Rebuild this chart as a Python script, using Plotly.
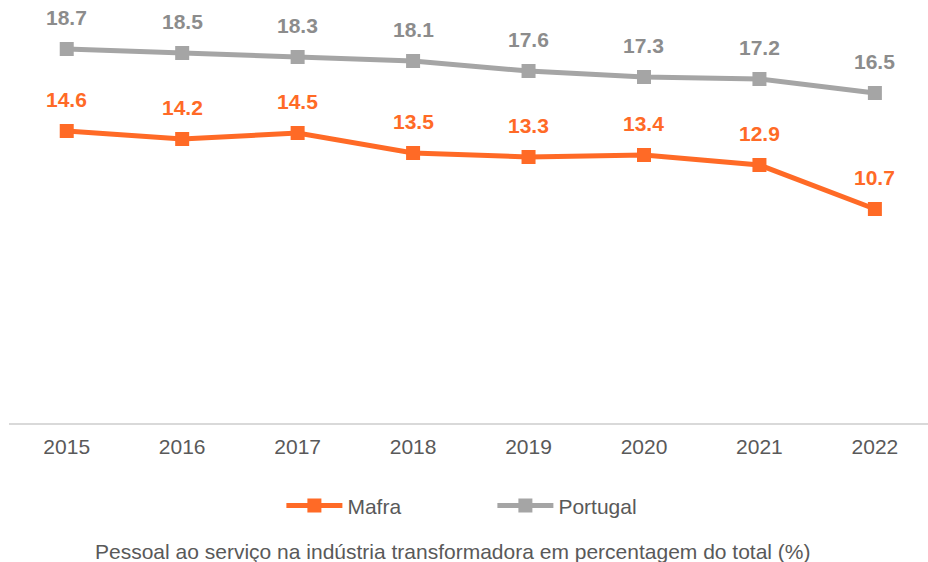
import plotly.graph_objects as go

# Anos e percentagens do pessoal ao serviço na indústria transformadora
anos = ["2015", "2016", "2017", "2018", "2019", "2020", "2021", "2022"]
mafra = [14.6, 14.2, 14.5, 13.5, 13.3, 13.4, 12.9, 10.7]
portugal = [18.7, 18.5, 18.3, 18.1, 17.6, 17.3, 17.2, 16.5]

COR_MAFRA = "#FF6A26"
COR_PT = "#A5A5A5"
COR_PT_TXT = "#8C8C8C"
FONTE = "Liberation Sans, Arial, sans-serif"

fig = go.Figure()
fig.add_trace(go.Scatter(
    x=anos, y=mafra, name="Mafra", mode="lines+markers",
    line=dict(color=COR_MAFRA, width=5),
    marker=dict(symbol="square", size=14, color=COR_MAFRA),
))
fig.add_trace(go.Scatter(
    x=anos, y=portugal, name="Portugal", mode="lines+markers",
    line=dict(color=COR_PT, width=5),
    marker=dict(symbol="square", size=14, color=COR_PT),
))

# Rótulos de valor acima de cada ponto (x pelo índice da categoria)
for serie, cor in ((mafra, COR_MAFRA), (portugal, COR_PT_TXT)):
    for i, v in enumerate(serie):
        fig.add_annotation(
            x=i, y=v, text=f"<b>{v:.1f}</b>", showarrow=False, yshift=32,
            font=dict(family=FONTE, size=21, color=cor),
        )

fig.add_annotation(
    xref="paper", yref="paper", x=0.4826, y=-0.32, xanchor="center", yanchor="middle",
    text="Pessoal ao serviço na indústria transformadora em percentagem do total (%)",
    showarrow=False, font=dict(family=FONTE, size=21, color="#595959"),
)

fig.update_layout(
    width=928, height=562,
    margin=dict(l=9, r=0, t=23, b=139),
    paper_bgcolor="white", plot_bgcolor="white",
    font=dict(family=FONTE, color="#595959"),
    showlegend=True,
    legend=dict(
        orientation="h", x=0.526, xanchor="center", y=-0.207, yanchor="middle",
        itemwidth=56, entrywidth=140,
        font=dict(family=FONTE, size=21, color="#595959"),
    ),
    xaxis=dict(
        type="category", range=[-0.5, 7.46],
        showline=True, linecolor="#D9D9D9", linewidth=1.5,
        showgrid=False, ticks="", ticklabelstandoff=4,
        tickfont=dict(family=FONTE, size=21, color="#595959"),
    ),
    yaxis=dict(range=[0, 20], visible=False, showgrid=False, zeroline=False),
)

fig.write_html("out.html")
